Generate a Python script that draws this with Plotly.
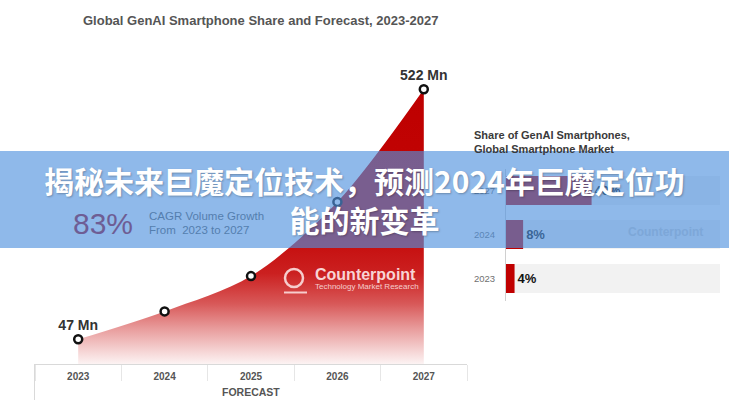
import plotly.graph_objects as go

# ---------------- data ----------------
years = ["2023", "2024", "2025", "2026", "2027"]
shipments_mn = [47, 100, 167, 308, 522]
point_labels = ["47 Mn", "", "", "", "522 Mn"]

share_years = ["2023", "2024", "2027"]
share_pct = [4, 8, 40]
share_total = [100, 100, 100]
share_labels = ["4%", "8%", "40%"]

# ---------------- helpers ----------------
W, H = 729, 400


def px(x):
    return x / W


def py(y):
    return 1 - y / H


BANNER_RGB = (80, 146, 222)
BANNER_A = 0.64


def under_banner(rgb):
    return "rgb(%d,%d,%d)" % tuple(
        round(BANNER_A * b + (1 - BANNER_A) * c) for b, c in zip(BANNER_RGB, rgb)
    )


FONT = "Liberation Sans, Arial, sans-serif"

fig = go.Figure()

# gradient area
fig.add_trace(go.Scatter(
    x=years, y=shipments_mn, mode="lines",
    line=dict(shape="spline", smoothing=0.9, width=0, color="rgba(0,0,0,0)"),
    fill="tozeroy",
    fillgradient=dict(
        type="vertical", start=0, stop=max(shipments_mn),
        colorscale=[
            [0.0, "rgb(252,243,243)"],
            [0.05, "rgb(245,210,210)"],
            [0.13, "rgb(232,155,155)"],
            [0.22, "rgb(216,88,88)"],
            [0.33, "rgb(203,32,32)"],
            [0.5, "rgb(195,5,5)"],
            [1.0, "rgb(190,0,0)"],
        ],
    ),
    hoverinfo="skip", showlegend=False,
))

# markers + end labels
fig.add_trace(go.Scatter(
    x=years, y=shipments_mn, mode="markers+text",
    marker=dict(size=8, color="white", line=dict(color="#111111", width=2.5)),
    text=point_labels, textposition="top center",
    textfont=dict(family=FONT, size=14, color="#333333", weight="bold"),
    cliponaxis=False, showlegend=False,
))

# right panel bars
fig.add_trace(go.Bar(
    x=share_total, y=share_years, orientation="h", width=0.66,
    marker=dict(color="#f2f2f2", line=dict(width=0)),
    xaxis="x2", yaxis="y2", hoverinfo="skip", showlegend=False,
))
fig.add_trace(go.Bar(
    x=share_pct, y=share_years, orientation="h", width=0.66,
    marker=dict(color="#c00000", line=dict(width=0)),
    text=share_labels, textposition="outside",
    textfont=dict(family=FONT, size=13, color="#111111", weight="bold"),
    cliponaxis=False, xaxis="x2", yaxis="y2", showlegend=False,
))

fig.update_layout(
    width=W, height=H,
    margin=dict(l=0, r=0, t=0, b=0),
    paper_bgcolor="white", plot_bgcolor="rgba(0,0,0,0)",
    barmode="overlay",
    font=dict(family=FONT),
    xaxis=dict(
        domain=[px(35), px(467)], type="category", range=[-0.5, 4.5],
        showline=True, linecolor="#d9d9d9", linewidth=1,
        ticks="outside", tickson="boundaries", ticklen=16, tickcolor="#e6e6e6",
        tickfont=dict(family=FONT, size=10, color="#555555", weight="bold"),
        ticklabelstandoff=3, showgrid=False, zeroline=False, anchor="y",
    ),
    yaxis=dict(
        domain=[py(364), py(69.3)], range=[0, 560], visible=False, anchor="x",
    ),
    xaxis2=dict(domain=[px(506), px(720)], range=[0, 100], visible=False, anchor="y2"),
    yaxis2=dict(
        domain=[py(300.5), py(168.5)], type="category",
        categoryorder="array", categoryarray=share_years,
        showline=True, linecolor="#d0d0d0", linewidth=1,
        ticks="outside", ticklen=8, tickcolor="rgba(0,0,0,0)",
        tickfont=dict(family=FONT, size=9.5, color="#707070"),
        showgrid=False, zeroline=False, anchor="x2",
    ),
)

shapes = [
    # left frame line of the year strip
    dict(type="line", xref="paper", yref="paper", x0=px(34.5), x1=px(34.5),
         y0=py(364), y1=0, line=dict(color="#d9d9d9", width=1)),
    # Counterpoint logo (circle + base)
    dict(type="circle", xref="paper", yref="paper",
         x0=px(285), x1=px(303), y0=py(287), y1=py(269),
         line=dict(color="rgb(246,205,205)", width=2.5)),
    dict(type="line", xref="paper", yref="paper", x0=px(284), x1=px(307),
         y0=py(292.5), y1=py(292.5), line=dict(color="rgb(246,205,205)", width=2)),
    # blue banner
    dict(type="rect", xref="paper", yref="paper", x0=0, x1=1,
         y0=py(248), y1=py(151), layer="above",
         fillcolor="rgba(%d,%d,%d,%s)" % (*BANNER_RGB, BANNER_A), line=dict(width=0)),
]
fig.update_layout(shapes=shapes)

ann = [
    dict(x=px(260), y=py(21), text="Global GenAI Smartphone Share and Forecast, 2023-2027",
         font=dict(family=FONT, size=13, color="#555555", weight="bold")),
    dict(x=px(251), y=py(392), text="FORECAST",
         font=dict(family=FONT, size=10.5, color="#555555", weight="bold")),
    dict(x=px(472), y=py(135), xanchor="left", text="Share of GenAI Smartphones,",
         font=dict(family=FONT, size=11, color="#3a3a3a", weight="bold")),
    dict(x=px(472), y=py(149), xanchor="left", text="Global Smartphone Market",
         font=dict(family=FONT, size=11, color="#3a3a3a", weight="bold")),
    dict(x=px(103), y=py(223), text="83%",
         font=dict(family=FONT, size=30, color=under_banner((163, 0, 16)))),
    dict(x=px(147), y=py(216), xanchor="left", text="CAGR Volume Growth",
         font=dict(family=FONT, size=11.5, color=under_banner((90, 90, 90)))),
    dict(x=px(147), y=py(230), xanchor="left", text="From  2023 to 2027",
         font=dict(family=FONT, size=11.5, color=under_banner((90, 90, 90)))),
    dict(x=px(313), y=py(274), xanchor="left", text="Counterpoint",
         font=dict(family=FONT, size=16, color="rgb(248,212,212)", weight="bold")),
    dict(x=px(313), y=py(286), xanchor="left", text="Technology Market Research",
         font=dict(family=FONT, size=8, color="rgb(246,205,205)")),
    dict(x=px(665), y=py(232), text="Counterpoint",
         font=dict(family=FONT, size=12, color=under_banner((205, 205, 205)), weight="bold")),
    dict(x=0.5, y=py(199.5), text="揭秘未来巨魔定位技术，预测2024年巨魔定位功<br>能的新变革",
         font=dict(family="Noto Sans CJK SC", size=30, color="white", weight="bold",
                   shadow="1px 1px 2px rgba(0,0,0,0.25)")),
]
for a in ann:
    a.update(xref="paper", yref="paper", showarrow=False)
    a.setdefault("xanchor", "center")
    a.setdefault("yanchor", "middle")
fig.update_layout(annotations=ann)

fig.write_html(
    "out.html",
    config={"displayModeBar": False},
    post_script="document.body.style.margin='0';document.body.style.overflow='hidden';",
)
